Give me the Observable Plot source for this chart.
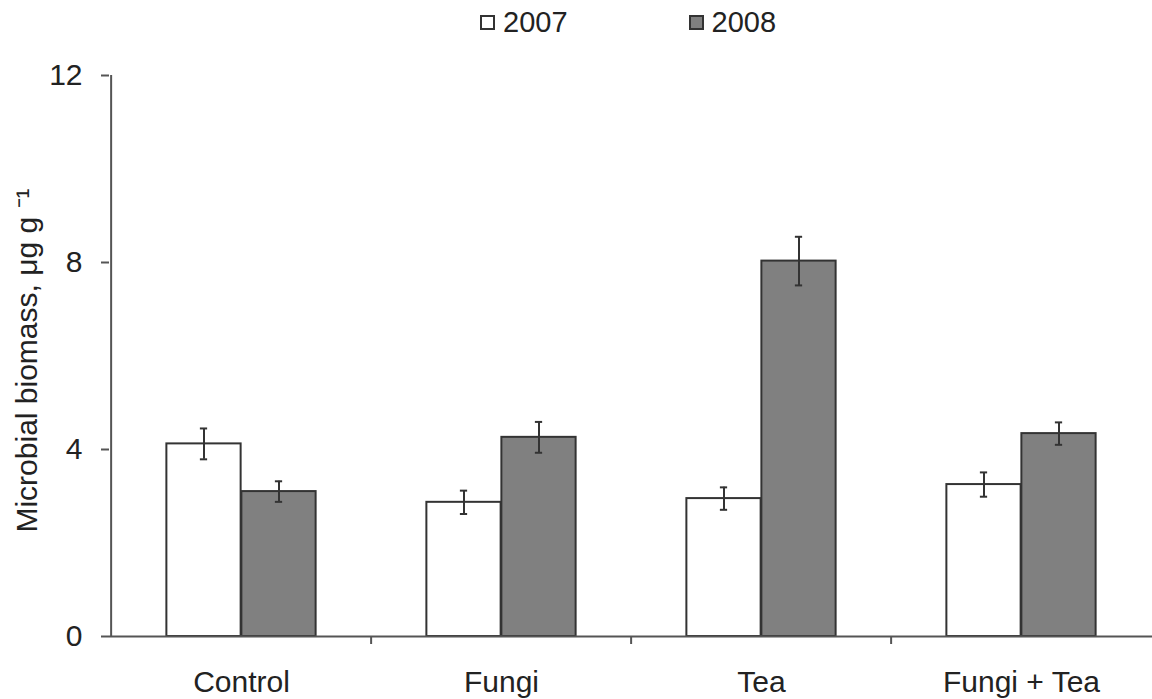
<!DOCTYPE html>
<html>
<head>
<meta charset="utf-8">
<script src="https://cdn.jsdelivr.net/npm/d3@7"></script>
<script src="https://cdn.jsdelivr.net/npm/@observablehq/plot@0.6"></script>
<style>
  body { margin: 0; background: #fff; font-family: "Liberation Sans", Arial, sans-serif; }
  #legend { height: 45px; display: flex; align-items: center; padding-left: 480px; gap: 121px; font-size: 29px; color: #222; }
  #legend .item { display: flex; align-items: center; }
  #legend .sw { width: 11px; height: 11px; border: 2px solid #333; margin-right: 8px; }
  #chart svg { display: block; }
</style>
</head>
<body>
<div id="legend"></div>
<div id="chart"></div>
<script>
// Microbial biomass by treatment, two sampling years (mean ± error)
const categories = ["Control", "Fungi", "Tea", "Fungi + Tea"];
const years = ["2007", "2008"];
const mean2007 = [4.12, 2.87, 2.95, 3.25];
const err2007 = [0.33, 0.25, 0.24, 0.26];
const mean2008 = [3.10, 4.26, 8.03, 4.34];
const err2008 = [0.22, 0.33, 0.52, 0.24];
const yTicks = [0, 4, 8, 12];
const yLabel = "Microbial biomass, μg g ⁻¹";

const rows = (means, errs, year) => categories.map((cat, i) => ({
  cat, year, v: means[i], lo: means[i] - errs[i], hi: means[i] + errs[i]
}));
const d2007 = rows(mean2007, err2007, years[0]);
const d2008 = rows(mean2008, err2008, years[1]);

// layout
const W = 1152, H = 654, mL = 109, mR = 0, mT = 30, mB = 63;
const band = (W - mL - mR) / categories.length;
const half = band / 2, barW = 75, capW = 8;
const ink = "#333", axisInk = "#555";
const fills = {"2007": "#ffffff", "2008": "#808080"};

// legend above the chart
const legend = d3.select("#legend");
years.forEach(y => {
  const item = legend.append("div").attr("class", "item");
  item.append("div").attr("class", "sw").style("background", fills[y]);
  item.append("span").text(y);
});

function errorBars(data, dx) {
  const common = {x: "cat", dx, stroke: ink, strokeWidth: 2};
  return [
    Plot.ruleX(data, {...common, y1: "lo", y2: "hi"}),
    Plot.tickY(data, {...common, y: "hi", insetLeft: half - capW / 2, insetRight: half - capW / 2}),
    Plot.tickY(data, {...common, y: "lo", insetLeft: half - capW / 2, insetRight: half - capW / 2})
  ];
}

const chart = Plot.plot({
  width: W,
  height: H,
  marginLeft: mL,
  marginRight: mR,
  marginTop: mT,
  marginBottom: mB,
  style: {fontFamily: "'Liberation Sans', Arial, sans-serif", fontSize: "30px", color: "#222", background: "#fff", overflow: "visible"},
  x: {domain: categories, padding: 0},
  y: {domain: [0, 12]},
  marks: [
    Plot.barY(d2007, {x: "cat", y: "v", fill: fills["2007"], stroke: ink, strokeWidth: 2, insetLeft: half - barW, insetRight: half}),
    Plot.barY(d2008, {x: "cat", y: "v", fill: fills["2008"], stroke: ink, strokeWidth: 2, insetLeft: half, insetRight: half - barW}),
    ...errorBars(d2007, -barW / 2),
    ...errorBars(d2008, barW / 2),
    // baseline and vertical axis line
    Plot.ruleY([0], {stroke: axisInk, strokeWidth: 2}),
    Plot.ruleX([categories[0]], {x: d => d, y1: 0, y2: 12, dx: -half, stroke: axisInk, strokeWidth: 2}),
    // tick marks between the treatment groups
    Plot.ruleX(categories.slice(1), {x: d => d, y1: 0, y2: 0, insetBottom: -8, dx: -half, stroke: axisInk, strokeWidth: 2}),
    Plot.axisY({ticks: yTicks, tickSize: 8, tickPadding: 19, stroke: axisInk, strokeWidth: 2, fill: "#222", fontSize: 30, label: null}),
    Plot.axisX({tickSize: 0, tickPadding: 34, fill: "#222", fontSize: 30, label: null}),
    Plot.text([yLabel], {frameAnchor: "left", textAnchor: "middle", rotate: -90, dx: -82, dy: 4.5, fontSize: 30, fill: "#222"})
  ]
});
document.getElementById("chart").appendChild(chart);
</script>
</body>
</html>
